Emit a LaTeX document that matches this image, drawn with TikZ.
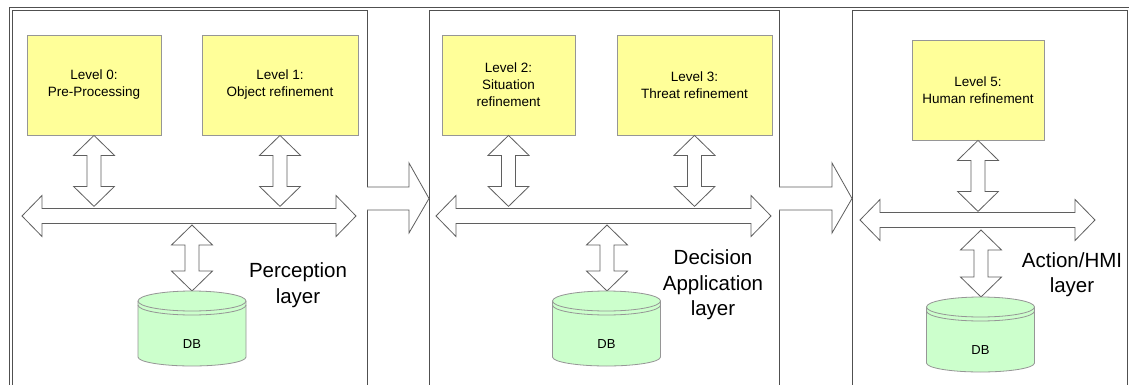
\documentclass[tikz,border=0pt]{standalone}
\usepackage{fontspec}
\setmainfont{Liberation Sans}
\definecolor{boxyellow}{RGB}{255,255,153}
\definecolor{dbgreen}{RGB}{204,255,204}
\definecolor{edgegray}{RGB}{150,150,150}
\definecolor{framegray}{RGB}{80,80,80}
\definecolor{arrowgray}{RGB}{95,95,95}
\tikzset{
  panel/.style={draw=framegray, line width=0.9pt, fill=white, anchor=north west, inner sep=0pt},
  levelbox/.style={draw=edgegray, line width=0.8pt, fill=boxyellow, align=center, inner sep=0pt,
    font=\fontsize{13.5}{17}\selectfont},
  blockarrow/.style={draw=arrowgray, line width=0.8pt, fill=white, line join=miter},
  dbstyle/.style={draw=edgegray, line width=0.8pt, fill=dbgreen},
  dbline/.style={draw=edgegray, line width=0.8pt},
  dbtext/.style={font=\fontsize{13}{15}\selectfont, inner sep=0pt},
  layertext/.style={align=center, font=\fontsize{20.5}{25.5}\selectfont, inner sep=0pt}
}
% vertical double block arrow: #1 top tip, #2 length
\newcommand\VDArrow[2]{%
  \draw[blockarrow] (#1) -- ++(20.5,20) -- ++(-13.5,0) -- ++(0,{#2-40}) -- ++(13.5,0)
    -- ++(-20.5,20) -- ++(-20.5,-20) -- ++(13.5,0) -- ++(0,{-(#2-40)}) -- ++(-13.5,0) -- cycle;}
% horizontal double block arrow: #1 left tip, #2 length
\newcommand\HDArrow[2]{%
  \draw[blockarrow] (#1) -- ++(20,-20.5) -- ++(0,13) -- ++({#2-40},0) -- ++(0,-13)
    -- ++(20,20.5) -- ++(-20,20.5) -- ++(0,-13) -- ++({-(#2-40)},0) -- ++(0,13) -- cycle;}
% database cylinder: #1 name, #2 centre x, #3 top y
\newcommand\DBcyl[3]{%
  \pgfmathsetmacro\dbxc{#2}\pgfmathsetmacro\dbty{#3+10}\pgfmathsetmacro\dbby{#3+66}%
  \filldraw[dbstyle] (\dbxc-54,\dbty) -- (\dbxc-54,\dbby)
    arc[start angle=180,end angle=360,x radius=54pt,y radius=9pt]
    -- (\dbxc+54,\dbty)
    arc[start angle=0,end angle=180,x radius=54pt,y radius=10pt] -- cycle;
  \draw[dbline] (\dbxc-54,\dbty) arc[start angle=180,end angle=360,x radius=54pt,y radius=10pt];
  \draw[dbline] (\dbxc-54,\dbty+4) arc[start angle=180,end angle=360,x radius=54pt,y radius=10pt];
  \node[dbtext] (#1) at (\dbxc,{#3+53}) {DB};}
\begin{document}
\begin{tikzpicture}[x=1pt,y=-1pt]
\useasboundingbox (0,0) rectangle (1129,385);
\clip (0,0) rectangle (1129,385);
\fill[white] (0,0) rectangle (1129,385);
% outer frame
\draw[framegray, line width=0.9pt] (9,390) -- (9,7) -- (1135,7);
% panels
\node[panel, minimum width=355pt, minimum height=390pt] (P1) at (12,10) {};
\node[panel, minimum width=350pt, minimum height=390pt] (P2) at (429,10) {};
\node[panel, minimum width=275pt, minimum height=390pt] (P3) at (852,10) {};
% arrows between panels
\draw[blockarrow] (367,187) -- (409,187) -- (409,163) -- (429,198.5) -- (409,233) -- (409,210) -- (367,210);
\draw[blockarrow] (779,187) -- (832,187) -- (832,163) -- (852,198.5) -- (832,233) -- (832,210) -- (779,210);
% level boxes
\node[levelbox, minimum width=134pt, minimum height=100pt] (L0) at (94,85) {Level 0:\\Pre-Processing};
\node[levelbox, minimum width=156pt, minimum height=100pt] (L1) at (280,85) {Level 1:\\Object refinement};
\node[levelbox, minimum width=133pt, minimum height=100pt] (L2) at (508.5,85) {Level 2:\\Situation\\refinement};
\node[levelbox, minimum width=155pt, minimum height=100pt] (L3) at (694.5,85) {Level 3:\\Threat refinement};
\node[levelbox, minimum width=132pt, minimum height=100pt] (L5) at (978,90) {Level 5:\\Human refinement};
% buses
\coordinate (bus1) at (22,216);
\coordinate (bus2) at (436,216);
\coordinate (bus3) at (860,220);
\HDArrow{bus1}{334}
\HDArrow{bus2}{335}
\HDArrow{bus3}{235}
% level box <-> bus arrows
\VDArrow{L0.south}{71}
\VDArrow{L1.south}{71}
\VDArrow{L2.south}{71}
\VDArrow{L3.south}{71}
\VDArrow{L5.south}{71}
% bus <-> DB arrows
\coordinate (dbarrow1) at (192,225);
\coordinate (dbarrow2) at (607,225);
\coordinate (dbarrow3) at (981,230);
\VDArrow{dbarrow1}{66}
\VDArrow{dbarrow2}{66}
\VDArrow{dbarrow3}{67}
% databases
\DBcyl{DB1}{192}{291}
\DBcyl{DB2}{606.5}{291}
\DBcyl{DB3}{980.5}{297}
% layer labels
\node[layertext] (T1) at (298,285) {Perception\\layer};
\node[layertext] (T2) at (713,285) {Decision\\Application\\layer};
\node[layertext] (T3) at (1072,274.5) {Action/HMI\\layer};
\end{tikzpicture}
\end{document}
